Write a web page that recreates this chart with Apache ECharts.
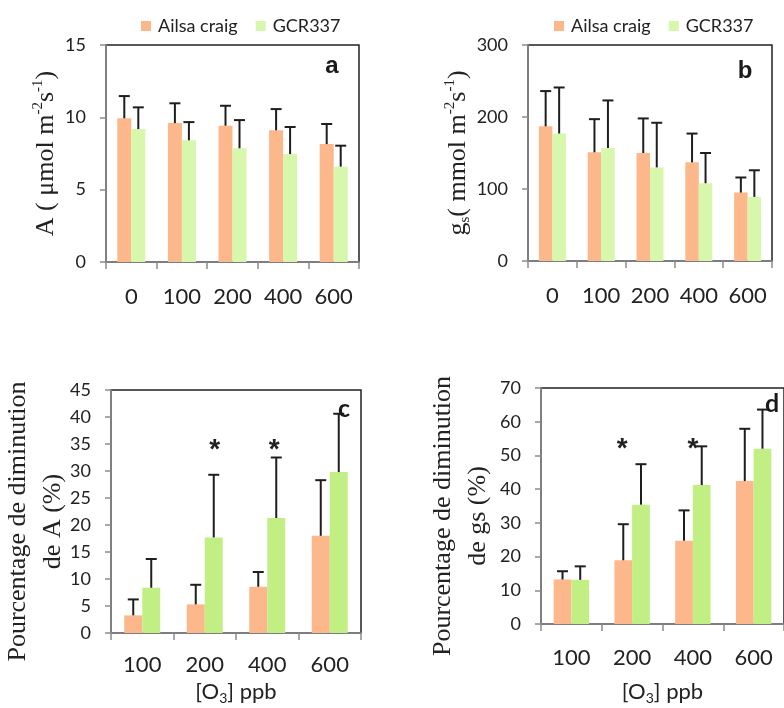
<!DOCTYPE html>
<html><head><meta charset="utf-8">
<script src="https://cdn.jsdelivr.net/npm/echarts/dist/echarts.min.js"></script>
<style>html,body{margin:0;padding:0;background:#fff}#c{width:784px;height:708px}</style>
</head><body><div id="c"></div>
<script>
// ---- data ----
const catsAB = ['0', '100', '200', '400', '600'];
const catsCD = ['100', '200', '400', '600'];
// panel a: A (µmol m-2 s-1)
const aAilsa = [9.93, 9.6, 9.42, 9.1, 8.15];
const aAilsaErr = [1.54, 1.37, 1.38, 1.47, 1.39];
const aGcr = [9.19, 8.41, 7.86, 7.46, 6.59];
const aGcrErr = [1.5, 1.26, 1.95, 1.87, 1.45];
// panel b: gs (mmol m-2 s-1)
const bAilsa = [187, 151, 150, 137, 95];
const bAilsaErr = [49, 46, 48, 40, 21];
const bGcr = [177, 157, 130, 108, 89];
const bGcrErr = [64, 66, 62, 42, 37];
// panel c: % decrease of A
const cAilsa = [3.26, 5.3, 8.56, 18.0];
const cAilsaErr = [2.96, 3.63, 2.74, 10.3];
const cGcr = [8.38, 17.7, 21.3, 29.8];
const cGcrErr = [5.32, 11.6, 11.2, 10.8];
// panel d: % decrease of gs
const dAilsa = [13.2, 18.9, 24.7, 42.4];
const dAilsaErr = [2.45, 10.7, 9.0, 15.5];
const dGcr = [13.1, 35.4, 41.2, 52.0];
const dGcrErr = [4.0, 12.0, 11.5, 11.6];
// significance stars: [category index, y value]
const cStars = [[1, 35], [2, 35]];
const dStars = [[1, 53.5], [2, 53.5]];
const seriesNames = ['Ailsa craig', 'GCR337'];

// ---- styles ----
const ORANGE = '#fcb88b';
const GREEN_LIGHT = '#d6f7ac';
const GREEN = '#c2ef83';
const AXIS_GRAY = '#8c8c8c';
const TXT = '#222';
const SANS = 'Lato';
const SERIF = 'Liberation Serif';

const chart = echarts.init(document.getElementById('c'));

const grids = [
  {left: 106, top: 45, width: 253, height: 217},
  {left: 528, top: 45, width: 244, height: 216},
  {left: 111, top: 390, width: 250, height: 243},
  {left: 541, top: 388, width: 247, height: 236}
].map(g => Object.assign(g, {show: true, borderColor: '#222', borderWidth: 1.5, backgroundColor: 'transparent'}));

function xAx(gi, cats, margin, name, nameGap) {
  const o = {
    type: 'category', gridIndex: gi, data: cats,
    axisLine: {lineStyle: {color: AXIS_GRAY, width: 1.5}},
    axisTick: {show: true, length: 7, interval: 0, lineStyle: {color: AXIS_GRAY, width: 1.5}},
    axisLabel: {margin: margin, fontSize: 22, fontFamily: SANS, color: TXT, interval: 0},
    splitLine: {show: false}
  };
  if (name) {
    o.name = name; o.nameLocation = 'middle'; o.nameGap = nameGap;
    o.nameTextStyle = {fontSize: 22, fontFamily: SANS, color: TXT, lineHeight: 26,
      rich: {n: {fontSize: 22, fontFamily: SANS, color: TXT, lineHeight: 26},
             sub: {fontSize: 14, fontFamily: SANS, color: TXT, verticalAlign: 'bottom', lineHeight: 26}}};
  }
  return o;
}
function yAx(gi, max, interval, name, nameGap, lh, extra) {
  return {
    type: 'value', gridIndex: gi, min: 0, max: max, interval: interval,
    axisLine: {show: true, lineStyle: {color: AXIS_GRAY, width: 1.5}},
    axisTick: {show: true, length: 6, lineStyle: {color: AXIS_GRAY, width: 1.5}},
    axisLabel: {margin: 20, fontSize: 18, fontFamily: SANS, color: TXT},
    splitLine: {show: false},
    name: name, nameLocation: 'middle', nameRotate: 90, nameGap: nameGap,
    nameTextStyle: Object.assign({fontSize: 26, fontFamily: SERIF, color: TXT,
      rich: {
        n: {fontSize: 26, fontFamily: SERIF, color: TXT, lineHeight: lh},
        sup: {fontSize: 15, fontFamily: SERIF, color: TXT, verticalAlign: 'top', lineHeight: lh},
        sub: {fontSize: 15, fontFamily: SERIF, color: TXT, verticalAlign: 'bottom', lineHeight: lh}
      }}, extra || {})
  };
}

const xAxis = [
  xAx(0, catsAB, 24),
  xAx(1, catsAB, 24),
  xAx(2, catsCD, 21, '{n|[O}{sub|3}{n|] ppb}', 46),
  xAx(3, catsCD, 23, '{n|[O}{sub|3}{n|] ppb}', 55)
];
const yAxis = [
  yAx(0, 15, 5, '{n|A ( μmol m}{sup|-2}{n|s}{sup|-1}{n|)}', 45, 30),
  yAx(1, 300, 100, '{n|g}{sub|s}{n|( mmol m}{sup|-2}{n|s}{sup|-1}{n|)}', 55, 30),
  yAx(2, 45, 5, '{n|Pourcentage de diminution}\n{n|de A (%)}', 37, 35, {padding: [0, 20, 0, 0]}),
  yAx(3, 70, 10, '{n|Pourcentage de diminution}\n{n|de gs (%)}', 45, 35, {padding: [0, 20, 0, 0]})
];

const series = [];
function errSeries(gi, vals, errs, dx) {
  return {
    type: 'custom', xAxisIndex: gi, yAxisIndex: gi, z: 5, silent: true,
    data: vals.map((v, i) => [i, v, errs[i]]),
    renderItem: function (params, api) {
      const i = api.value(0), v = api.value(1), e = api.value(2);
      const p0 = api.coord([i, v]);
      const p1 = api.coord([i, v + e]);
      const x = p0[0] + dx;
      const st = {stroke: '#1e1e1e', lineWidth: 2};
      return {type: 'group', children: [
        {type: 'line', shape: {x1: x, y1: p0[1], x2: x, y2: p1[1]}, style: st},
        {type: 'line', shape: {x1: x - 5.5, y1: p1[1], x2: x + 5.5, y2: p1[1]}, style: st}
      ]};
    }
  };
}
function panel(gi, ail, ailErr, gcr, gcrErr, green, bw) {
  series.push({name: seriesNames[0], type: 'bar', xAxisIndex: gi, yAxisIndex: gi, data: ail,
    barWidth: bw, barGap: '0%', itemStyle: {color: ORANGE}});
  series.push({name: seriesNames[1], type: 'bar', xAxisIndex: gi, yAxisIndex: gi, data: gcr,
    barWidth: bw, barGap: '0%', itemStyle: {color: green}});
  series.push(errSeries(gi, ail, ailErr, -bw / 2));
  series.push(errSeries(gi, gcr, gcrErr, bw / 2));
}
function starSeries(gi, stars, dxs) {
  return {
    type: 'custom', xAxisIndex: gi, yAxisIndex: gi, z: 6, silent: true,
    data: stars.map((s, k) => [s[0], s[1], k]),
    renderItem: function (params, api) {
      const p = api.coord([api.value(0), api.value(1)]);
      return {type: 'text', x: p[0] + dxs[api.value(2)], y: p[1] + 6,
        style: {text: '*', font: 'bold 28px "Liberation Sans"', fill: '#222', align: 'center', verticalAlign: 'middle'}};
    }
  };
}
panel(0, aAilsa, aAilsaErr, aGcr, aGcrErr, GREEN_LIGHT, 14);
panel(1, bAilsa, bAilsaErr, bGcr, bGcrErr, GREEN_LIGHT, 13.5);
panel(2, cAilsa, cAilsaErr, cGcr, cGcrErr, GREEN, 18);
panel(3, dAilsa, dAilsaErr, dGcr, dGcrErr, GREEN, 17.7);
series.push(starSeries(2, cStars, [10, 7]));
series.push(starSeries(3, dStars, [-10, 0]));

const legendBase = {
  data: seriesNames, icon: 'rect', itemWidth: 10, itemHeight: 10, itemGap: 18, top: 12,
  selectedMode: false,
  textStyle: {fontSize: 18, fontFamily: SANS, color: TXT, padding: [0, 0, 0, 2]}
};
const legend = [
  Object.assign({left: 136}, legendBase),
  Object.assign({left: 549}, legendBase)
];

const letter = (t, x, y, font) => ({type: 'text', x: x, y: y,
  style: {text: t, font: font, fill: '#1a1a1a', align: 'center', verticalAlign: 'middle'}, z: 100});
const graphic = [
  letter('a', 332, 66, 'bold 24px "Liberation Sans"'),
  letter('b', 745, 71, 'bold 24px "Liberation Sans"'),
  letter('c', 344, 409, 'bold 25px Lato'),
  letter('d', 772, 404, 'bold 25px Lato')
];

chart.setOption({animation: false, grid: grids, xAxis: xAxis, yAxis: yAxis, series: series, legend: legend, graphic: graphic});
</script></body></html>
